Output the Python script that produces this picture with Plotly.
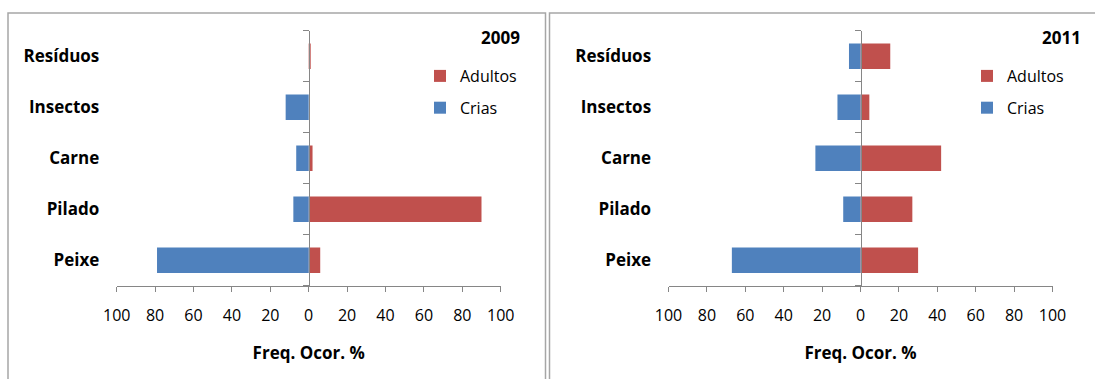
import plotly.graph_objects as go

# Diet composition (frequency of occurrence, %) of young (Crias) and adults (Adultos)
categorias = ["Peixe", "Pilado", "Carne", "Insectos", "Resíduos"]

adultos_2009 = [6, 90, 2, 0, 1]
crias_2009 = [79, 8, 6.5, 12, 0]

adultos_2011 = [30, 27, 42, 4.6, 15.5]
crias_2011 = [67, 9, 23.5, 12, 6]

anos = ["2009", "2011"]
tick_vals = [-100, -80, -60, -40, -20, 0, 20, 40, 60, 80, 100]
tick_text = [str(abs(v)) for v in tick_vals]

COR_ADULTOS = "#C0504D"
COR_CRIAS = "#4F81BD"
COR_EIXO = "#868686"
FONTE = "Open Sans"

W, H = 1095, 379
X_RANGE = [-100, 100]

# pixel geometry of the two panels
x_dom_px = [(116.7, 500.7), (668.5, 1052.5)]
y_dom_px = (30.7, 285.7)
frame_px = [(8, 545.5), (549.5, 1100)]
frame_top = 13
label_edge_px = [99, 650]
legend_left_px = [420, 967]
year_right_px = [522, 1083]

fig = go.Figure()

series = [(adultos_2009, crias_2009), (adultos_2011, crias_2011)]
for i, (adultos, crias) in enumerate(series):
    sfx = "" if i == 0 else str(i + 1)
    leg = "legend" + sfx
    fig.add_trace(go.Bar(
        y=categorias, x=adultos, orientation="h", name="Adultos",
        marker=dict(color=COR_ADULTOS, line=dict(width=0)),
        xaxis="x" + sfx, yaxis="y" + sfx, legend=leg, legendgroup="a" + sfx,
    ))
    fig.add_trace(go.Bar(
        y=categorias, x=[-v for v in crias], orientation="h", name="Crias",
        marker=dict(color=COR_CRIAS, line=dict(width=0)),
        xaxis="x" + sfx, yaxis="y" + sfx, legend=leg, legendgroup="c" + sfx,
    ))

layout = dict(
    width=W, height=H,
    margin=dict(l=0, r=0, t=0, b=0, pad=0, autoexpand=False),
    paper_bgcolor="white", plot_bgcolor="white",
    barmode="relative", bargap=0.5,
    font=dict(family=FONTE, color="black"),
    showlegend=True,
    shapes=[], annotations=[],
)

y0 = 1 - y_dom_px[1] / H
y1 = 1 - y_dom_px[0] / H

for i in range(2):
    sfx = "" if i == 0 else str(i + 1)
    d0 = x_dom_px[i][0] / W
    d1 = x_dom_px[i][1] / W
    zero_pos = d0 + (0 - X_RANGE[0]) / (X_RANGE[1] - X_RANGE[0]) * (d1 - d0)
    zero_px = zero_pos * W

    layout["xaxis" + sfx] = dict(
        domain=[d0, d1], range=X_RANGE, anchor="y" + sfx, automargin=False,
        showline=True, linecolor=COR_EIXO, linewidth=1,
        ticks="outside", ticklen=5, tickcolor=COR_EIXO, tickwidth=1,
        tickvals=tick_vals, ticktext=tick_text,
        tickfont=dict(size=16, family=FONTE, color="black"),
        showgrid=False, zeroline=False, fixedrange=True,
        ticklabelstandoff=10,
        title=dict(text="Freq. Ocor. %", standoff=22,
                   font=dict(size=17, family=FONTE, weight="bold", color="black")),
    )
    layout["yaxis" + sfx] = dict(
        domain=[y0, y1], type="category", automargin=False,
        categoryorder="array", categoryarray=categorias,
        range=[-0.5, len(categorias) - 0.5],
        anchor="free", position=zero_pos,
        showline=True, linecolor=COR_EIXO, linewidth=1,
        ticks="outside", ticklen=6, tickcolor=COR_EIXO, tickwidth=1,
        tickson="boundaries",
        ticklabelstandoff=int(round(zero_px - label_edge_px[i] - 4)),
        tickfont=dict(size=17, family=FONTE, weight="bold", color="black"),
        showgrid=False, zeroline=False, fixedrange=True,
    )
    layout["legend" + sfx] = dict(
        x=legend_left_px[i] / W, xanchor="left",
        y=1 - 59 / H, yanchor="top",
        bgcolor="rgba(0,0,0,0)", borderwidth=0,
        font=dict(size=16, family=FONTE, color="black"),
        traceorder="grouped", tracegroupgap=8,
        itemclick=False, itemdoubleclick=False,
    )
    layout["annotations"].append(dict(
        text="<b>%s</b>" % anos[i], xref="paper", yref="paper",
        x=year_right_px[i] / W, xanchor="right",
        y=1 - 37 / H, yanchor="middle", showarrow=False,
        font=dict(size=17, family=FONTE, color="black"),
    ))
    layout["shapes"].append(dict(
        type="rect", xref="paper", yref="paper", layer="below",
        x0=frame_px[i][0] / W, x1=frame_px[i][1] / W,
        y0=-0.05, y1=1 - frame_top / H,
        line=dict(color="#a6a6a6", width=1.5), fillcolor="rgba(0,0,0,0)",
    ))

fig.update_layout(**layout)
fig.write_html("out.html")
